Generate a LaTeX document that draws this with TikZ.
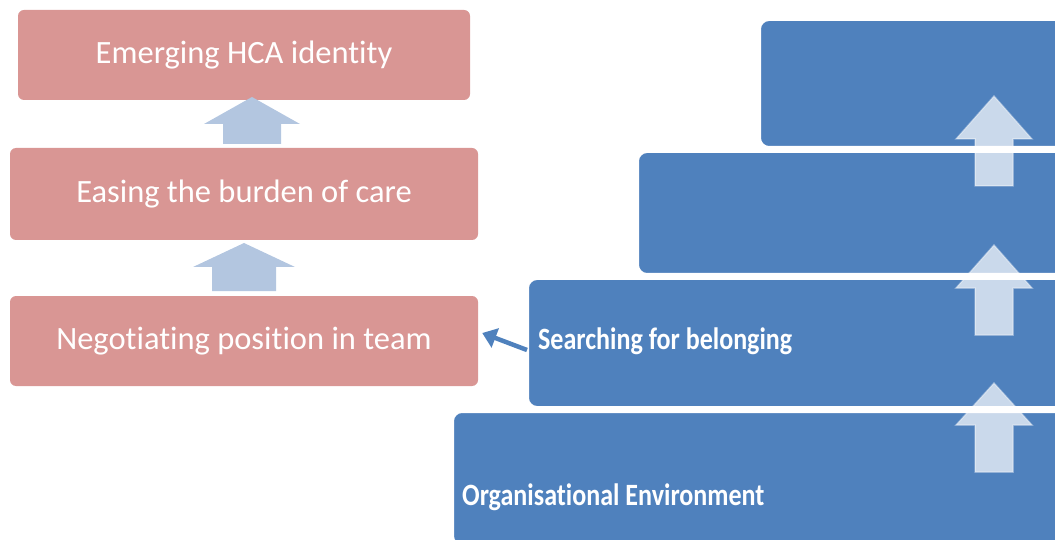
\documentclass[tikz,border=0pt]{standalone}
\usepackage{fontspec}
\setmainfont[Ligatures=NoCommon]{Carlito}
\usetikzlibrary{arrows.meta}

\definecolor{pinkbox}{HTML}{D99694}
\definecolor{bluebox}{HTML}{4F81BD}
\definecolor{paleblue}{HTML}{B3C6E0}

\tikzset{
  stage/.style={rectangle, rounded corners=6, fill=pinkbox, text=white,
    inner sep=0, font=\fontsize{32.5}{38}\selectfont},
  layer/.style={rectangle, rounded corners=9, fill=bluebox, draw=white,
    line width=2, inner sep=0},
  layertext/.style={text=white, inner sep=0, anchor=base west,
    font=\bfseries\fontsize{31}{36}\selectfont, xscale=0.84},
  pinkup/.style={fill=paleblue},
  blueup/.style={fill=white, fill opacity=0.7, draw=white, draw opacity=0.35, line width=1.5},
}

% up block arrow: style, centre x, bottom, head base, tip, half shaft, half head
\newcommand{\upblock}[7]{%
  \path[#1] (#2-#6,#3) -- (#2+#6,#3) -- (#2+#6,#4) -- (#2+#7,#4)
    -- (#2,#5) -- (#2-#7,#4) -- (#2-#6,#4) -- cycle;}

\begin{document}
\begin{tikzpicture}[x=1pt, y=1pt]
\useasboundingbox (0,0) rectangle (1055,539);

% left column
\node[stage, minimum width=452, minimum height=90] (emerging) at (244,484) {Emerging HCA identity};
\node[stage, minimum width=468, minimum height=92] (easing) at (244,345) {Easing the burden of care};
\node[stage, minimum width=468, minimum height=90] (negot) at (244,198) {Negotiating position in team};

\upblock{pinkup}{252}{395}{415}{442}{29}{48}
\upblock{pinkup}{244}{248}{272}{296}{32}{51}

% right column
\node[layer, minimum width=315, minimum height=127] (top) at (917.5,455.5) {};
\node[layer, minimum width=437, minimum height=122] (mid) at (856.5,326) {};
\node[layer, minimum width=547, minimum height=128] (belong) at (801.5,196) {};
\node[layer, minimum width=622, minimum height=133] (orgenv) at (764,60.5) {};

\node[layertext] (belonglbl) at (538,190) {Searching for belonging};
\node[layertext] (orgenvlbl) at (462,34) {Organisational Environment};

\upblock{blueup}{994}{353}{400}{443}{19}{38}
\upblock{blueup}{994}{204}{251}{294}{19}{38}
\upblock{blueup}{994}{67}{114}{156}{19}{38}

\draw[bluebox, line width=4.5, -{Triangle[length=14, width=20]}]
  ([yshift=-7]belong.west) -- ([xshift=4, yshift=8]negot.east);
\end{tikzpicture}
\end{document}
